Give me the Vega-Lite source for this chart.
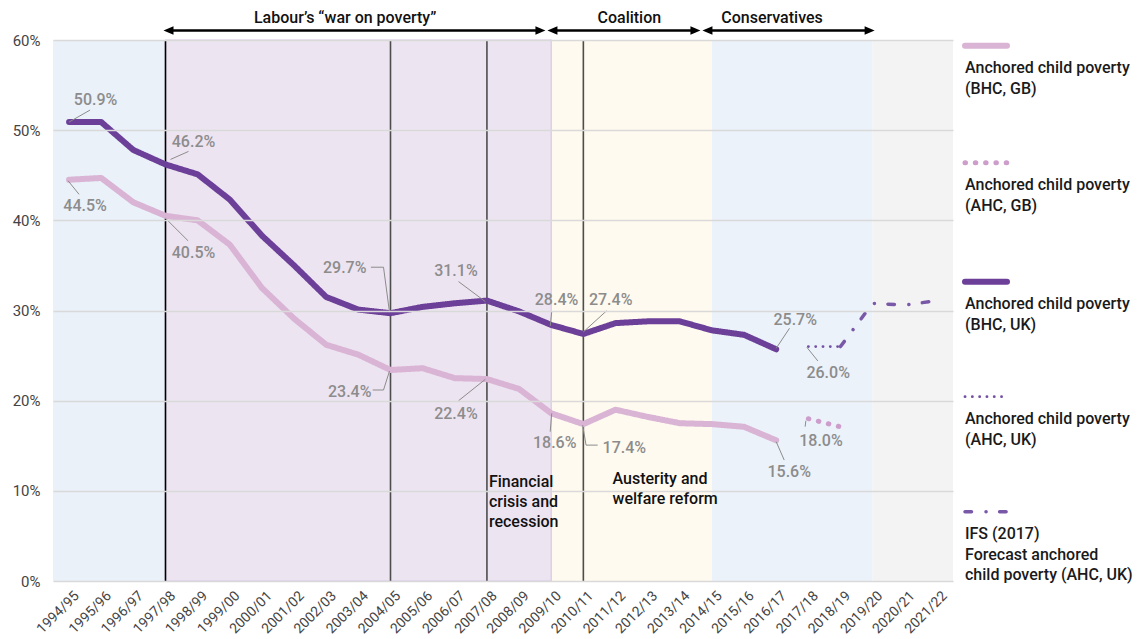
{
  "$schema": "https://vega.github.io/schema/vega-lite/v6.json",
  "width": 900,
  "height": 541,
  "autosize": {"type": "none"},
  "padding": {"left": 53, "top": 40, "right": 193, "bottom": 58},
  "background": "white",
  "config": {"view": {"stroke": null}, "font": "Roboto", "axisX": {"labels": false, "ticks": false, "domain": false, "grid": false}},
  "datasets": {
    "main": [
      {"year": 1994, "series": "BHC, UK", "value": 0.509},
      {"year": 1995, "series": "BHC, UK", "value": 0.509},
      {"year": 1996, "series": "BHC, UK", "value": 0.478},
      {"year": 1997, "series": "BHC, UK", "value": 0.462},
      {"year": 1998, "series": "BHC, UK", "value": 0.451},
      {"year": 1999, "series": "BHC, UK", "value": 0.423},
      {"year": 2000, "series": "BHC, UK", "value": 0.383},
      {"year": 2001, "series": "BHC, UK", "value": 0.350},
      {"year": 2002, "series": "BHC, UK", "value": 0.315},
      {"year": 2003, "series": "BHC, UK", "value": 0.301},
      {"year": 2004, "series": "BHC, UK", "value": 0.297},
      {"year": 2005, "series": "BHC, UK", "value": 0.304},
      {"year": 2006, "series": "BHC, UK", "value": 0.308},
      {"year": 2007, "series": "BHC, UK", "value": 0.311},
      {"year": 2008, "series": "BHC, UK", "value": 0.299},
      {"year": 2009, "series": "BHC, UK", "value": 0.284},
      {"year": 2010, "series": "BHC, UK", "value": 0.274},
      {"year": 2011, "series": "BHC, UK", "value": 0.286},
      {"year": 2012, "series": "BHC, UK", "value": 0.288},
      {"year": 2013, "series": "BHC, UK", "value": 0.288},
      {"year": 2014, "series": "BHC, UK", "value": 0.278},
      {"year": 2015, "series": "BHC, UK", "value": 0.273},
      {"year": 2016, "series": "BHC, UK", "value": 0.257},
      {"year": 1994, "series": "BHC, GB", "value": 0.445},
      {"year": 1995, "series": "BHC, GB", "value": 0.447},
      {"year": 1996, "series": "BHC, GB", "value": 0.420},
      {"year": 1997, "series": "BHC, GB", "value": 0.405},
      {"year": 1998, "series": "BHC, GB", "value": 0.400},
      {"year": 1999, "series": "BHC, GB", "value": 0.373},
      {"year": 2000, "series": "BHC, GB", "value": 0.325},
      {"year": 2001, "series": "BHC, GB", "value": 0.291},
      {"year": 2002, "series": "BHC, GB", "value": 0.262},
      {"year": 2003, "series": "BHC, GB", "value": 0.251},
      {"year": 2004, "series": "BHC, GB", "value": 0.234},
      {"year": 2005, "series": "BHC, GB", "value": 0.236},
      {"year": 2006, "series": "BHC, GB", "value": 0.225},
      {"year": 2007, "series": "BHC, GB", "value": 0.224},
      {"year": 2008, "series": "BHC, GB", "value": 0.213},
      {"year": 2009, "series": "BHC, GB", "value": 0.186},
      {"year": 2010, "series": "BHC, GB", "value": 0.174},
      {"year": 2011, "series": "BHC, GB", "value": 0.190},
      {"year": 2012, "series": "BHC, GB", "value": 0.182},
      {"year": 2013, "series": "BHC, GB", "value": 0.175},
      {"year": 2014, "series": "BHC, GB", "value": 0.174},
      {"year": 2015, "series": "BHC, GB", "value": 0.171},
      {"year": 2016, "series": "BHC, GB", "value": 0.156},
      {"year": 2017, "series": "AHC, GB", "value": 0.180},
      {"year": 2018, "series": "AHC, GB", "value": 0.171},
      {"year": 2017, "series": "AHC, UK", "value": 0.260},
      {"year": 2018, "series": "AHC, UK", "value": 0.260},
      {"year": 2018, "series": "IFS (2017)", "value": 0.260},
      {"year": 2019, "series": "IFS (2017)", "value": 0.308},
      {"year": 2020, "series": "IFS (2017)", "value": 0.306},
      {"year": 2021, "series": "IFS (2017)", "value": 0.311}
    ],
    "ticks": [
      {"year": 1994, "label": "1994/95"}, {"year": 1995, "label": "1995/96"}, {"year": 1996, "label": "1996/97"},
      {"year": 1997, "label": "1997/98"}, {"year": 1998, "label": "1998/99"}, {"year": 1999, "label": "1999/00"},
      {"year": 2000, "label": "2000/01"}, {"year": 2001, "label": "2001/02"}, {"year": 2002, "label": "2002/03"},
      {"year": 2003, "label": "2003/04"}, {"year": 2004, "label": "2004/05"}, {"year": 2005, "label": "2005/06"},
      {"year": 2006, "label": "2006/07"}, {"year": 2007, "label": "2007/08"}, {"year": 2008, "label": "2008/09"},
      {"year": 2009, "label": "2009/10"}, {"year": 2010, "label": "2010/11"}, {"year": 2011, "label": "2011/12"},
      {"year": 2012, "label": "2012/13"}, {"year": 2013, "label": "2013/14"}, {"year": 2014, "label": "2014/15"},
      {"year": 2015, "label": "2015/16"}, {"year": 2016, "label": "2016/17"}, {"year": 2017, "label": "2017/18"},
      {"year": 2018, "label": "2018/19"}, {"year": 2019, "label": "2019/20"}, {"year": 2020, "label": "2020/21"},
      {"year": 2021, "label": "2021/22"}
    ],
    "bands": [
      {"period": "Conservative (to 1997)", "start": 1993.5, "end": 1997},
      {"period": "Labour", "start": 1997, "end": 2009},
      {"period": "Coalition", "start": 2009, "end": 2014},
      {"period": "Conservative", "start": 2014, "end": 2019},
      {"period": "Forecast", "start": 2019, "end": 2021.5}
    ],
    "events": [
      {"year": 1997, "event": "Labour elected"},
      {"year": 2004, "event": "Child poverty pledge review"},
      {"year": 2007, "event": "Financial crisis"},
      {"year": 2010, "event": "Austerity"}
    ],
    "periods": [
      {"period": "Labour", "start": 1997, "end": 2009},
      {"period": "Coalition", "start": 2009, "end": 2014},
      {"period": "Conservatives", "start": 2014, "end": 2019}
    ],
    "notes": [
      {"id": "labour", "note": "Labour’s “war on poverty”"},
      {"id": "coalition", "note": "Coalition"},
      {"id": "conservatives", "note": "Conservatives"},
      {"id": "financial", "note": "Financial\ncrisis and\nrecession"},
      {"id": "austerity", "note": "Austerity and\nwelfare reform"}
    ]
  },
  "data": {"name": "main"},
  "layer": [
    {
      "data": {"name": "bands"},
      "mark": {"type": "rect"},
      "encoding": {
        "x": {"field": "start", "type": "quantitative",
          "scale": {"domain": [1993.5, 2021.5], "nice": false, "zero": false},
          "axis": {"labels": false, "ticks": false, "domain": false, "grid": false, "title": null}},
        "x2": {"field": "end"},
        "fill": {"field": "period", "type": "nominal", "legend": null,
          "scale": {"domain": ["Conservative (to 1997)", "Labour", "Coalition", "Conservative", "Forecast"],
                    "range": ["#eaf1f9", "#ede4f1", "#fffaef", "#ebf2fa", "#f3f3f3"]}}
      }
    },
    {
      "data": {"name": "bands"},
      "transform": [{"filter": "datum.period == 'Labour'"}],
      "mark": {"type": "rect", "filled": false, "stroke": "#d9c6e8", "strokeWidth": 1.2},
      "encoding": {
        "x": {"field": "start", "type": "quantitative"},
        "x2": {"field": "end"}
      }
    },
    {
      "data": {"name": "events"},
      "mark": {"type": "rule", "strokeWidth": 1.6},
      "encoding": {
        "x": {"field": "year", "type": "quantitative"},
        "stroke": {"condition": {"test": "datum.year == 1997", "value": "#000000"}, "value": "#4d4d4d"}
      }
    },
    {
      "mark": {"type": "line", "strokeCap": "round", "strokeJoin": "round"},
      "encoding": {
        "x": {"field": "year", "type": "quantitative",
          "scale": {"domain": [1993.5, 2021.5], "nice": false, "zero": false},
          "axis": {"labels": false, "ticks": false, "domain": false, "grid": false, "title": null}},
        "y": {"field": "value", "type": "quantitative",
          "scale": {"domain": [0, 0.6], "nice": false},
          "axis": {"values": [0, 0.1, 0.2, 0.3, 0.4, 0.5, 0.6], "format": "%",
            "domain": false, "ticks": false, "title": null, "zindex": 1,
            "labelFont": "Roboto", "labelFontSize": 15, "labelColor": "#444444", "labelPadding": 13,
            "gridColor": "#d9d9d9", "gridWidth": 1.5}},
        "color": {"field": "series", "type": "nominal",
          "scale": {"domain": ["BHC, GB", "AHC, GB", "BHC, UK", "AHC, UK", "IFS (2017)"],
                    "range": ["#d9b4d5", "#cd9dcb", "#6c3f98", "#7450a4", "#7a58a8"]},
          "legend": {"orient": "none", "legendX": 912, "legendY": -2.3, "title": null, "padding": 0,
            "symbolType": "stroke", "symbolSize": 1764,
            "labelFont": "Roboto", "labelFontSize": 16, "labelFontWeight": 500, "labelColor": "#1a1a1a",
            "labelBaseline": "alphabetic", "labelLimit": 300, "rowPadding": 56,
            "labelExpr": "datum.label == 'IFS (2017)' ? ['IFS (2017)', 'Forecast anchored', 'child poverty (AHC, UK)'] : ['Anchored child poverty', '(' + datum.label + ')']",
            "encoding": {
              "symbols": {"strokeCap": {"value": "round"}, "x": {"value": 21},
                "strokeWidth": {"value": {"expr": "datum.value == 'AHC, UK' ? 2.8 : datum.value == 'IFS (2017)' ? 3.5 : datum.value == 'AHC, GB' ? 5 : 6"}}},
              "labels": {"x": {"value": 0}, "dy": {"value": 27.5}, "lineHeight": {"value": 20.5}}
            }}},
        "strokeDash": {"field": "series", "type": "nominal",
          "scale": {"domain": ["BHC, GB", "AHC, GB", "BHC, UK", "AHC, UK", "IFS (2017)"],
                    "range": [[1, 0], [0.5, 9.8], [1, 0], [0.1, 7.2], [6.5, 14.5, 0.1, 13.5]]},
          "legend": {"orient": "none", "legendX": 912, "legendY": -2.3, "title": null, "padding": 0,
            "symbolType": "stroke", "symbolSize": 1764,
            "labelFont": "Roboto", "labelFontSize": 16, "labelFontWeight": 500, "labelColor": "#1a1a1a",
            "labelBaseline": "alphabetic", "labelLimit": 300, "rowPadding": 56,
            "labelExpr": "datum.label == 'IFS (2017)' ? ['IFS (2017)', 'Forecast anchored', 'child poverty (AHC, UK)'] : ['Anchored child poverty', '(' + datum.label + ')']",
            "encoding": {
              "symbols": {"strokeCap": {"value": "round"}, "x": {"value": 21},
                "strokeWidth": {"value": {"expr": "datum.value == 'AHC, UK' ? 2.8 : datum.value == 'IFS (2017)' ? 3.5 : datum.value == 'AHC, GB' ? 5 : 6"}}},
              "labels": {"x": {"value": 0}, "dy": {"value": 27.5}, "lineHeight": {"value": 20.5}}
            }}},
        "strokeWidth": {"condition": [
            {"test": "datum.series == 'AHC, UK'", "value": 2.8},
            {"test": "datum.series == 'IFS (2017)'", "value": 3.5},
            {"test": "datum.series == 'AHC, GB'", "value": 5}
          ], "value": 6}
      }
    },
    {
      "data": {"name": "ticks"},
      "mark": {"type": "text", "fontSize": 14, "fill": "#444444", "angle": -45, "align": "right", "baseline": "top", "xOffset": 3, "yOffset": 8},
      "encoding": {
        "x": {"field": "year", "type": "quantitative"},
        "y": {"datum": 0, "type": "quantitative"},
        "text": {"field": "label"}
      }
    },
    {
      "transform": [{"filter": "datum.series == 'BHC, UK' && datum.year == 1994"}],
      "encoding": {"x": {"field": "year", "type": "quantitative"}, "y": {"field": "value", "type": "quantitative"}},
      "layer": [
        {"mark": {"type": "rule", "stroke": "#8c8c8c", "strokeWidth": 1, "xOffset": 0, "yOffset": 0, "x2Offset": 21, "y2Offset": -12}, "encoding": {"x2": {"field": "year"}, "y2": {"field": "value"}}},
        {"mark": {"type": "text", "fontSize": 16, "fontWeight": 500, "fill": "#8c8c8c", "align": "center", "baseline": "middle", "dx": 26.5, "dy": -22}, "encoding": {"text": {"field": "value", "type": "quantitative", "format": ".1%"}}}
      ]
    },
    {
      "transform": [{"filter": "datum.series == 'BHC, UK' && datum.year == 1997"}],
      "encoding": {"x": {"field": "year", "type": "quantitative"}, "y": {"field": "value", "type": "quantitative"}},
      "layer": [
        {"mark": {"type": "rule", "stroke": "#8c8c8c", "strokeWidth": 1, "xOffset": 5, "yOffset": -5, "x2Offset": 23, "y2Offset": -13}, "encoding": {"x2": {"field": "year"}, "y2": {"field": "value"}}},
        {"mark": {"type": "text", "fontSize": 16, "fontWeight": 500, "fill": "#8c8c8c", "align": "center", "baseline": "middle", "dx": 28, "dy": -22.5}, "encoding": {"text": {"field": "value", "type": "quantitative", "format": ".1%"}}}
      ]
    },
    {
      "transform": [{"filter": "datum.series == 'BHC, GB' && datum.year == 1994"}],
      "encoding": {"x": {"field": "year", "type": "quantitative"}, "y": {"field": "value", "type": "quantitative"}},
      "layer": [
        {"mark": {"type": "rule", "stroke": "#8c8c8c", "strokeWidth": 1, "xOffset": -1, "yOffset": 1, "x2Offset": 10, "y2Offset": 14.6}, "encoding": {"x2": {"field": "year"}, "y2": {"field": "value"}}},
        {"mark": {"type": "text", "fontSize": 16, "fontWeight": 500, "fill": "#8c8c8c", "align": "center", "baseline": "middle", "dx": 16, "dy": 26}, "encoding": {"text": {"field": "value", "type": "quantitative", "format": ".1%"}}}
      ]
    },
    {
      "transform": [{"filter": "datum.series == 'BHC, GB' && datum.year == 1997"}],
      "encoding": {"x": {"field": "year", "type": "quantitative"}, "y": {"field": "value", "type": "quantitative"}},
      "layer": [
        {"mark": {"type": "rule", "stroke": "#8c8c8c", "strokeWidth": 1, "xOffset": 0, "yOffset": 2.5, "x2Offset": 22.6, "y2Offset": 25}, "encoding": {"x2": {"field": "year"}, "y2": {"field": "value"}}},
        {"mark": {"type": "text", "fontSize": 16, "fontWeight": 500, "fill": "#8c8c8c", "align": "center", "baseline": "middle", "dx": 28, "dy": 37.5}, "encoding": {"text": {"field": "value", "type": "quantitative", "format": ".1%"}}}
      ]
    },
    {
      "transform": [{"filter": "datum.series == 'BHC, UK' && datum.year == 2004"}],
      "encoding": {"x": {"field": "year", "type": "quantitative"}, "y": {"field": "value", "type": "quantitative"}},
      "layer": [
        {"mark": {"type": "rule", "stroke": "#8c8c8c", "strokeWidth": 1, "xOffset": -19.6, "yOffset": -46, "x2Offset": -7, "y2Offset": -46}, "encoding": {"x2": {"field": "year"}, "y2": {"field": "value"}}},
        {"mark": {"type": "rule", "stroke": "#8c8c8c", "strokeWidth": 1, "xOffset": -7, "yOffset": -46, "x2Offset": -1, "y2Offset": -1}, "encoding": {"x2": {"field": "year"}, "y2": {"field": "value"}}},
        {"mark": {"type": "text", "fontSize": 16, "fontWeight": 500, "fill": "#8c8c8c", "align": "right", "baseline": "middle", "dx": -24, "dy": -45}, "encoding": {"text": {"field": "value", "type": "quantitative", "format": ".1%"}}}
      ]
    },
    {
      "transform": [{"filter": "datum.series == 'BHC, GB' && datum.year == 2004"}],
      "encoding": {"x": {"field": "year", "type": "quantitative"}, "y": {"field": "value", "type": "quantitative"}},
      "layer": [
        {"mark": {"type": "rule", "stroke": "#8c8c8c", "strokeWidth": 1, "xOffset": -17.8, "yOffset": 20, "x2Offset": -7, "y2Offset": 20}, "encoding": {"x2": {"field": "year"}, "y2": {"field": "value"}}},
        {"mark": {"type": "rule", "stroke": "#8c8c8c", "strokeWidth": 1, "xOffset": -7, "yOffset": 20, "x2Offset": -1, "y2Offset": 1}, "encoding": {"x2": {"field": "year"}, "y2": {"field": "value"}}},
        {"mark": {"type": "text", "fontSize": 16, "fontWeight": 500, "fill": "#8c8c8c", "align": "right", "baseline": "middle", "dx": -19, "dy": 21.5}, "encoding": {"text": {"field": "value", "type": "quantitative", "format": ".1%"}}}
      ]
    },
    {
      "transform": [{"filter": "datum.series == 'BHC, UK' && datum.year == 2007"}],
      "encoding": {"x": {"field": "year", "type": "quantitative"}, "y": {"field": "value", "type": "quantitative"}},
      "layer": [
        {"mark": {"type": "rule", "stroke": "#8c8c8c", "strokeWidth": 1, "xOffset": -28.4, "yOffset": -19, "x2Offset": -1.6, "y2Offset": 1}, "encoding": {"x2": {"field": "year"}, "y2": {"field": "value"}}},
        {"mark": {"type": "text", "fontSize": 16, "fontWeight": 500, "fill": "#8c8c8c", "align": "center", "baseline": "middle", "dx": -31, "dy": -29.6}, "encoding": {"text": {"field": "value", "type": "quantitative", "format": ".1%"}}}
      ]
    },
    {
      "transform": [{"filter": "datum.series == 'BHC, GB' && datum.year == 2007"}],
      "encoding": {"x": {"field": "year", "type": "quantitative"}, "y": {"field": "value", "type": "quantitative"}},
      "layer": [
        {"mark": {"type": "rule", "stroke": "#8c8c8c", "strokeWidth": 1, "xOffset": -28.4, "yOffset": 21.7, "x2Offset": -1.6, "y2Offset": 0.3}, "encoding": {"x2": {"field": "year"}, "y2": {"field": "value"}}},
        {"mark": {"type": "text", "fontSize": 16, "fontWeight": 500, "fill": "#8c8c8c", "align": "center", "baseline": "middle", "dx": -31, "dy": 34.5}, "encoding": {"text": {"field": "value", "type": "quantitative", "format": ".1%"}}}
      ]
    },
    {
      "transform": [{"filter": "datum.series == 'BHC, UK' && datum.year == 2009"}],
      "encoding": {"x": {"field": "year", "type": "quantitative"}, "y": {"field": "value", "type": "quantitative"}},
      "layer": [
        {"mark": {"type": "rule", "stroke": "#8c8c8c", "strokeWidth": 1, "xOffset": 0.5, "yOffset": -13, "x2Offset": -1, "y2Offset": 1}, "encoding": {"x2": {"field": "year"}, "y2": {"field": "value"}}},
        {"mark": {"type": "text", "fontSize": 16, "fontWeight": 500, "fill": "#8c8c8c", "align": "center", "baseline": "middle", "dx": 5.3, "dy": -25}, "encoding": {"text": {"field": "value", "type": "quantitative", "format": ".1%"}}}
      ]
    },
    {
      "transform": [{"filter": "datum.series == 'BHC, GB' && datum.year == 2009"}],
      "encoding": {"x": {"field": "year", "type": "quantitative"}, "y": {"field": "value", "type": "quantitative"}},
      "layer": [
        {"mark": {"type": "rule", "stroke": "#8c8c8c", "strokeWidth": 1, "xOffset": 0.5, "yOffset": 0, "x2Offset": -1, "y2Offset": 18.4}, "encoding": {"x2": {"field": "year"}, "y2": {"field": "value"}}},
        {"mark": {"type": "text", "fontSize": 16, "fontWeight": 500, "fill": "#8c8c8c", "align": "center", "baseline": "middle", "dx": 3.5, "dy": 29.4}, "encoding": {"text": {"field": "value", "type": "quantitative", "format": ".1%"}}}
      ]
    },
    {
      "transform": [{"filter": "datum.series == 'BHC, UK' && datum.year == 2010"}],
      "encoding": {"x": {"field": "year", "type": "quantitative"}, "y": {"field": "value", "type": "quantitative"}},
      "layer": [
        {"mark": {"type": "rule", "stroke": "#8c8c8c", "strokeWidth": 1, "xOffset": 0, "yOffset": -2, "x2Offset": 23.3, "y2Offset": -23.2}, "encoding": {"x2": {"field": "year"}, "y2": {"field": "value"}}},
        {"mark": {"type": "text", "fontSize": 16, "fontWeight": 500, "fill": "#8c8c8c", "align": "center", "baseline": "middle", "dx": 27.3, "dy": -34}, "encoding": {"text": {"field": "value", "type": "quantitative", "format": ".1%"}}}
      ]
    },
    {
      "transform": [{"filter": "datum.series == 'BHC, GB' && datum.year == 2010"}],
      "encoding": {"x": {"field": "year", "type": "quantitative"}, "y": {"field": "value", "type": "quantitative"}},
      "layer": [
        {"mark": {"type": "rule", "stroke": "#8c8c8c", "strokeWidth": 1, "xOffset": -0.7, "yOffset": 1, "x2Offset": 2.7, "y2Offset": 21}, "encoding": {"x2": {"field": "year"}, "y2": {"field": "value"}}},
        {"mark": {"type": "rule", "stroke": "#8c8c8c", "strokeWidth": 1, "xOffset": 2.7, "yOffset": 21, "x2Offset": 14.3, "y2Offset": 21}, "encoding": {"x2": {"field": "year"}, "y2": {"field": "value"}}},
        {"mark": {"type": "text", "fontSize": 16, "fontWeight": 500, "fill": "#8c8c8c", "align": "center", "baseline": "middle", "dx": 41, "dy": 24}, "encoding": {"text": {"field": "value", "type": "quantitative", "format": ".1%"}}}
      ]
    },
    {
      "transform": [{"filter": "datum.series == 'BHC, UK' && datum.year == 2016"}],
      "encoding": {"x": {"field": "year", "type": "quantitative"}, "y": {"field": "value", "type": "quantitative"}},
      "layer": [
        {"mark": {"type": "rule", "stroke": "#8c8c8c", "strokeWidth": 1, "xOffset": 0, "yOffset": -1, "x2Offset": 13.3, "y2Offset": -21}, "encoding": {"x2": {"field": "year"}, "y2": {"field": "value"}}},
        {"mark": {"type": "text", "fontSize": 16, "fontWeight": 500, "fill": "#8c8c8c", "align": "center", "baseline": "middle", "dx": 19, "dy": -28.8}, "encoding": {"text": {"field": "value", "type": "quantitative", "format": ".1%"}}}
      ]
    },
    {
      "transform": [{"filter": "datum.series == 'BHC, GB' && datum.year == 2016"}],
      "encoding": {"x": {"field": "year", "type": "quantitative"}, "y": {"field": "value", "type": "quantitative"}},
      "layer": [
        {"mark": {"type": "rule", "stroke": "#8c8c8c", "strokeWidth": 1, "xOffset": 0, "yOffset": 1.4, "x2Offset": 8, "y2Offset": 19.7}, "encoding": {"x2": {"field": "year"}, "y2": {"field": "value"}}},
        {"mark": {"type": "text", "fontSize": 16, "fontWeight": 500, "fill": "#8c8c8c", "align": "center", "baseline": "middle", "dx": 13, "dy": 32}, "encoding": {"text": {"field": "value", "type": "quantitative", "format": ".1%"}}}
      ]
    },
    {
      "transform": [{"filter": "datum.series == 'AHC, UK' && datum.year == 2017"}],
      "encoding": {"x": {"field": "year", "type": "quantitative"}, "y": {"field": "value", "type": "quantitative"}},
      "layer": [
        {"mark": {"type": "rule", "stroke": "#8c8c8c", "strokeWidth": 1, "xOffset": -1.5, "yOffset": 0.7, "x2Offset": 9.5, "y2Offset": 14.4}, "encoding": {"x2": {"field": "year"}, "y2": {"field": "value"}}},
        {"mark": {"type": "text", "fontSize": 16, "fontWeight": 500, "fill": "#8c8c8c", "align": "center", "baseline": "middle", "dx": 19.8, "dy": 26.6}, "encoding": {"text": {"field": "value", "type": "quantitative", "format": ".1%"}}}
      ]
    },
    {
      "transform": [{"filter": "datum.series == 'AHC, GB' && datum.year == 2017"}],
      "encoding": {"x": {"field": "year", "type": "quantitative"}, "y": {"field": "value", "type": "quantitative"}},
      "layer": [
        {"mark": {"type": "rule", "stroke": "#8c8c8c", "strokeWidth": 1, "xOffset": -2.5, "yOffset": 2, "x2Offset": -3.2, "y2Offset": 8}, "encoding": {"x2": {"field": "year"}, "y2": {"field": "value"}}},
        {"mark": {"type": "text", "fontSize": 16, "fontWeight": 500, "fill": "#8c8c8c", "align": "center", "baseline": "middle", "dx": 12.6, "dy": 22}, "encoding": {"text": {"field": "value", "type": "quantitative", "format": ".1%"}}}
      ]
    },
    {
      "data": {"name": "periods"},
      "transform": [{"filter": "datum.period == 'Labour'"}],
      "encoding": {"y": {"datum": 0.6105, "type": "quantitative"}},
      "layer": [
        {"mark": {"type": "rule", "stroke": "#000000", "strokeWidth": 2.5, "xOffset": 2, "x2Offset": -9.8}, "encoding": {"x": {"field": "start", "type": "quantitative"}, "x2": {"field": "end"}}},
        {"mark": {"type": "point", "shape": "M-1,0L1,-0.85L1,0.85Z", "filled": true, "fill": "#000000", "opacity": 1, "size": 100, "xOffset": 3}, "encoding": {"x": {"field": "start", "type": "quantitative"}}},
        {"mark": {"type": "point", "shape": "M1,0L-1,-0.85L-1,0.85Z", "filled": true, "fill": "#000000", "opacity": 1, "size": 100, "xOffset": -10.8}, "encoding": {"x": {"field": "end", "type": "quantitative"}}}
      ]
    },
    {
      "data": {"name": "periods"},
      "transform": [{"filter": "datum.period == 'Coalition'"}],
      "encoding": {"y": {"datum": 0.6105, "type": "quantitative"}},
      "layer": [
        {"mark": {"type": "rule", "stroke": "#000000", "strokeWidth": 2.5, "xOffset": 0.2, "x2Offset": -15.5}, "encoding": {"x": {"field": "start", "type": "quantitative"}, "x2": {"field": "end"}}},
        {"mark": {"type": "point", "shape": "M-1,0L1,-0.85L1,0.85Z", "filled": true, "fill": "#000000", "opacity": 1, "size": 100, "xOffset": 1.2}, "encoding": {"x": {"field": "start", "type": "quantitative"}}},
        {"mark": {"type": "point", "shape": "M1,0L-1,-0.85L-1,0.85Z", "filled": true, "fill": "#000000", "opacity": 1, "size": 100, "xOffset": -16.5}, "encoding": {"x": {"field": "end", "type": "quantitative"}}}
      ]
    },
    {
      "data": {"name": "periods"},
      "transform": [{"filter": "datum.period == 'Conservatives'"}],
      "encoding": {"y": {"datum": 0.6105, "type": "quantitative"}},
      "layer": [
        {"mark": {"type": "rule", "stroke": "#000000", "strokeWidth": 2.5, "xOffset": -5.5, "x2Offset": -2}, "encoding": {"x": {"field": "start", "type": "quantitative"}, "x2": {"field": "end"}}},
        {"mark": {"type": "point", "shape": "M-1,0L1,-0.85L1,0.85Z", "filled": true, "fill": "#000000", "opacity": 1, "size": 100, "xOffset": -4.5}, "encoding": {"x": {"field": "start", "type": "quantitative"}}},
        {"mark": {"type": "point", "shape": "M1,0L-1,-0.85L-1,0.85Z", "filled": true, "fill": "#000000", "opacity": 1, "size": 100, "xOffset": -3}, "encoding": {"x": {"field": "end", "type": "quantitative"}}}
      ]
    },
    {
      "data": {"name": "notes"},
      "transform": [{"filter": "datum.id == 'labour'"}],
      "mark": {"type": "text", "fontSize": 16, "fontWeight": 500, "fill": "#111111", "align": "center", "baseline": "alphabetic"},
      "encoding": {"x": {"datum": 2002.59, "type": "quantitative"}, "y": {"datum": 0.6194, "type": "quantitative"}, "text": {"field": "note"}}
    },
    {
      "data": {"name": "notes"},
      "transform": [{"filter": "datum.id == 'coalition'"}],
      "mark": {"type": "text", "fontSize": 16, "fontWeight": 500, "fill": "#111111", "align": "center", "baseline": "alphabetic"},
      "encoding": {"x": {"datum": 2011.43, "type": "quantitative"}, "y": {"datum": 0.6185, "type": "quantitative"}, "text": {"field": "note"}}
    },
    {
      "data": {"name": "notes"},
      "transform": [{"filter": "datum.id == 'conservatives'"}],
      "mark": {"type": "text", "fontSize": 16, "fontWeight": 500, "fill": "#111111", "align": "center", "baseline": "alphabetic"},
      "encoding": {"x": {"datum": 2015.87, "type": "quantitative"}, "y": {"datum": 0.6185, "type": "quantitative"}, "text": {"field": "note"}}
    },
    {
      "data": {"name": "notes"},
      "transform": [{"filter": "datum.id == 'financial'"}],
      "mark": {"type": "text", "fontSize": 16, "fontWeight": 500, "fill": "#111111", "align": "left", "baseline": "alphabetic", "lineBreak": "\n", "lineHeight": 20, "dx": 2},
      "encoding": {"x": {"datum": 2007, "type": "quantitative"}, "y": {"datum": 0.1046, "type": "quantitative"}, "text": {"field": "note"}}
    },
    {
      "data": {"name": "notes"},
      "transform": [{"filter": "datum.id == 'austerity'"}],
      "mark": {"type": "text", "fontSize": 16, "fontWeight": 500, "fill": "#111111", "align": "left", "baseline": "alphabetic", "lineBreak": "\n", "lineHeight": 19.7, "dx": -3},
      "encoding": {"x": {"datum": 2011, "type": "quantitative"}, "y": {"datum": 0.1075, "type": "quantitative"}, "text": {"field": "note"}}
    }
  ]
}
